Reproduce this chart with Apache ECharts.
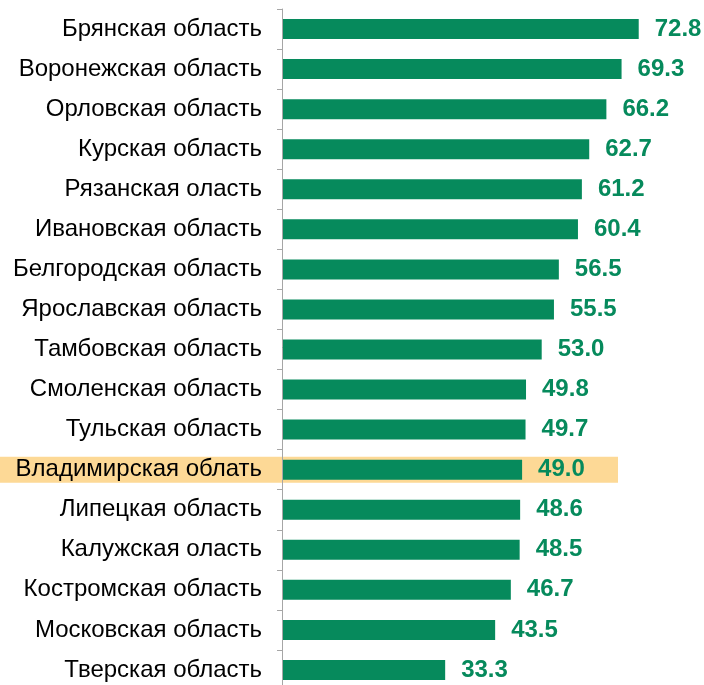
<!DOCTYPE html>
<html>
<head>
<meta charset="utf-8">
<script src="https://cdn.jsdelivr.net/npm/echarts@6/dist/echarts.min.js"></script>
<style>
  html, body { margin: 0; padding: 0; background: #fff; }
  #chart { width: 704px; height: 685px; }
</style>
</head>
<body>
<div id="chart"></div>
<script>
  // регионы и значения
  const regions = [
    'Брянская область', 'Воронежская область', 'Орловская область', 'Курская область',
    'Рязанская оласть', 'Ивановская область', 'Белгородская область', 'Ярославская область',
    'Тамбовская область', 'Смоленская область', 'Тульская область', 'Владимирская облать',
    'Липецкая область', 'Калужская оласть', 'Костромская область', 'Московская область',
    'Тверская область'
  ];
  const values = [72.8, 69.3, 66.2, 62.7, 61.2, 60.4, 56.5, 55.5, 53.0, 49.8, 49.7, 49.0, 48.6, 48.5, 46.7, 43.5, 33.3];
  const highlightRegion = 'Владимирская облать';

  const green = '#068a5c';
  const myChart = echarts.init(document.getElementById('chart'));

  let option = {
    backgroundColor: '#fff',
    animation: false,
    grid: { left: 282, top: 9, width: 392, height: 681, outerBoundsMode: 'none' },
    xAxis: {
      type: 'value',
      min: 0,
      max: 80,
      show: false
    },
    yAxis: {
      type: 'category',
      data: regions,
      inverse: true,
      axisLine: { show: true, lineStyle: { color: '#a6a6a6', width: 1 } },
      axisTick: { show: true, length: 5, lineStyle: { color: '#a6a6a6' } },
      axisLabel: {
        margin: 20,
        color: '#000',
        fontSize: 24,
        fontFamily: 'Liberation Sans, Arial, sans-serif'
      },
      z: 5
    },
    series: [{
      type: 'bar',
      data: values,
      barWidth: 20,
      itemStyle: { color: green },
      label: {
        show: true,
        position: 'right',
        distance: 16,
        color: green,
        fontSize: 24,
        fontWeight: 'bold',
        fontFamily: 'Liberation Sans, Arial, sans-serif',
        formatter: p => p.value.toFixed(1)
      },
      z: 3
    }]
  };
  myChart.setOption(option);

  // подсветка строки Владимирской области
  const idx = regions.indexOf(highlightRegion);
  const cy = myChart.convertToPixel({ yAxisIndex: 0 }, idx);
  myChart.setOption({
    graphic: [{
      type: 'rect',
      z: -10,
      silent: true,
      shape: { x: 0, y: cy - 13, width: 618, height: 26 },
      style: { fill: '#fdd996' }
    }]
  });
</script>
</body>
</html>
